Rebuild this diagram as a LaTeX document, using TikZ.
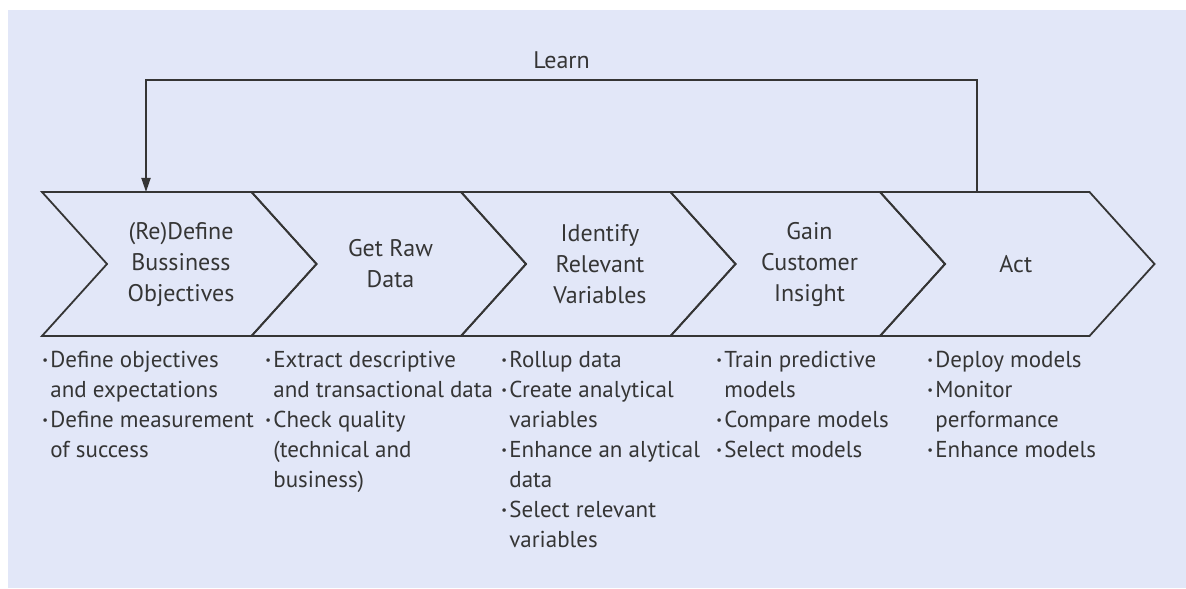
\documentclass[tikz,border=0pt]{standalone}
\usepackage{fontspec}
\setmainfont{PT Sans}
\usetikzlibrary{arrows.meta}
\definecolor{bgblue}{HTML}{E2E7F8}
\definecolor{ink}{HTML}{353535}
\newcommand{\bdot}{\makebox[4pt][l]{\raisebox{0.25ex}{\scalebox{0.55}{\textbullet}}}}
\newcommand{\bgap}{\hspace*{4pt}}

\begin{document}
\begin{tikzpicture}[x=0.5pt, y=-0.5pt,
    chevron/.style={draw=ink, line width=0.9pt, line join=miter},
    stagetext/.style={align=center, font=\fontsize{12}{15.5}\selectfont, text=ink},
    bullets/.style={align=left, anchor=north west, inner sep=0pt,
        font=\fontsize{11.5}{15}\selectfont, text=ink},
    flow/.style={draw=ink, line width=0.9pt, -{Triangle[length=7pt, width=4.5pt]}}]
        \fill[bgblue] (8,10) rectangle (1186,588);
        \useasboundingbox (0,0) rectangle (1186,588);
        % chevrons
        \foreach \i in {0,...,4} {
            \pgfmathsetmacro{\xa}{42+209.5*\i}
            \draw[chevron] (\xa,192) -- (\xa+209.5,192) -- (\xa+274.5,264)
                -- (\xa+209.5,336) -- (\xa,336) -- (\xa+65,264) -- cycle;
        }
        \node[stagetext] (DEFINE) at (181,264) {
            (Re)Define\\Bussiness\\Objectives
        };
        \node[stagetext] (RAW) at (390.5,264) {
            Get Raw\\Data
        };
        \node[stagetext] (VARS) at (600,264) {
            Identify\\Relevant\\Variables
        };
        \node[stagetext] (INSIGHT) at (809.5,264) {
            Gain\\Customer\\Insight
        };
        \node[stagetext] (ACT) at (1019,264) {
            Act
        };
        % bullet lists
        \node[bullets] (DEFINELIST) at (42,351) {
            \bdot Define objectives\\
            \bgap and expectations\\
            \bdot Define measurement\\
            \bgap of success
        };
        \node[bullets] (RAWLIST) at (265,351) {
            \bdot Extract descriptive\\
            \bgap and transactional data\\
            \bdot Check quality\\
            \bgap (technical and\\
            \bgap business)
        };
        \node[bullets] (VARSLIST) at (501,351) {
            \bdot Rollup data\\
            \bdot Create analytical\\
            \bgap variables\\
            \bdot Enhance an alytical\\
            \bgap data\\
            \bdot Select relevant\\
            \bgap variables
        };
        \node[bullets] (INSIGHTLIST) at (716,351) {
            \bdot Train predictive\\
            \bgap models\\
            \bdot Compare models\\
            \bdot Select models
        };
        \node[bullets] (ACTLIST) at (927,351) {
            \bdot Deploy models\\
            \bdot Monitor\\
            \bgap performance\\
            \bdot Enhance models
        };
        % learn loop
        \coordinate (LEARNOUT) at (977,192);
        \coordinate (LEARNIN) at (146,192);
        \draw[flow] (LEARNOUT) -- ++(0,-112) -| node[pos=0.25, above=2pt, stagetext] (LEARN) {Learn} (LEARNIN);
\end{tikzpicture}
\end{document}
